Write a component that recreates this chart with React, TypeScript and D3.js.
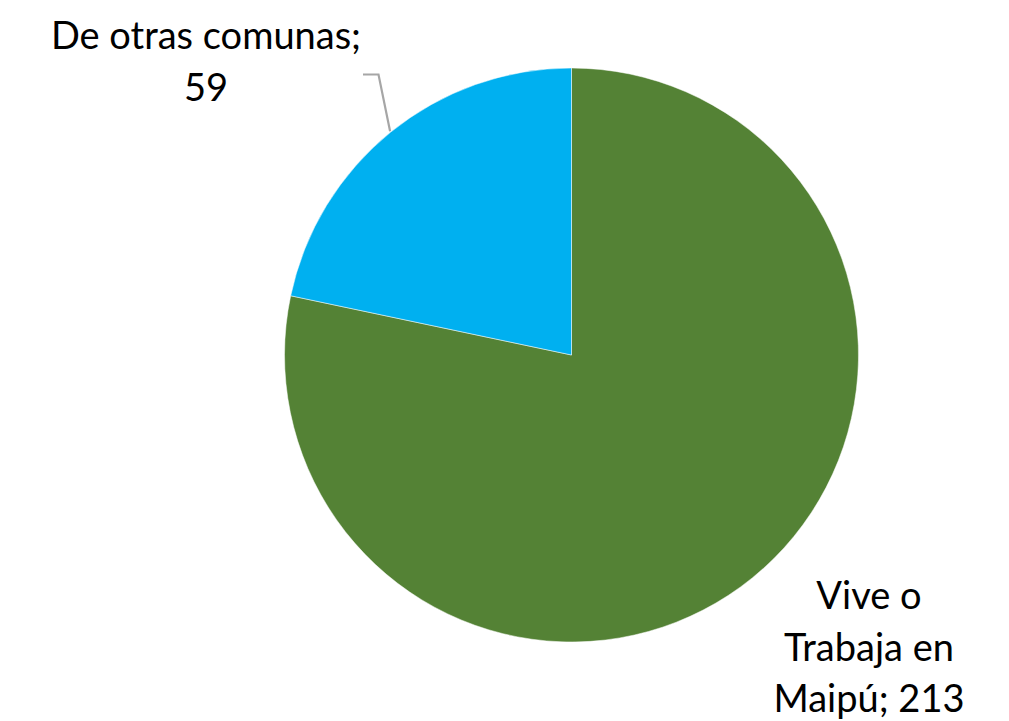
import React from "react";
import * as d3 from "d3";

const categories = ["Vive o Trabaja en Maipú", "De otras comunas"];
const values = [213, 59];
const colors = ["#548235", "#00B0F0"];
const labelLines = [["Vive o", "Trabaja en", "Maipú; 213"], ["De otras comunas;", "59"]];

const W = 1009, H = 721;
const cx = 571.5, cy = 355, R = 287;
const FONT = "Lato, 'Open Sans', sans-serif";
const FS = 38;
const LH = 51.5;

export default function App() {
  const pie = d3.pie<number>().sort(null).value((d) => d);
  const arcs = pie(values);
  const arc = d3.arc<d3.PieArcDatum<number>>().innerRadius(0).outerRadius(R);
  const labelPos = [
    { x: 869, y: 609 },
    { x: 206, y: 49 },
  ];
  const a = arcs[1];
  const mid = (a.startAngle + a.endAngle) / 2;
  const ex = cx + (R + 1) * Math.sin(mid);
  const ey = cy - (R + 1) * Math.cos(mid);
  return (
    <svg width={W} height={H} style={{ position: "absolute", left: 0, top: 0, background: "#fff" }}>
      <g transform={`translate(${cx},${cy})`}>
        {arcs.map((d, i) => (
          <path key={categories[i]} d={arc(d) || ""} fill={colors[i]} stroke="#fff" strokeWidth={0.5} />
        ))}
      </g>
      <polyline
        points={`363,74.5 378.5,74.5 ${ex},${ey}`}
        fill="none"
        stroke="#A6A6A6"
        strokeWidth={2.2}
      />
      {labelLines.map((lines, i) => (
        <text key={i} fontFamily={FONT} fontSize={FS} fill="#000" textAnchor="middle">
          {lines.map((l, j) => (
            <tspan key={j} x={labelPos[i].x} y={labelPos[i].y + j * LH}>
              {l}
            </tspan>
          ))}
        </text>
      ))}
    </svg>
  );
}
